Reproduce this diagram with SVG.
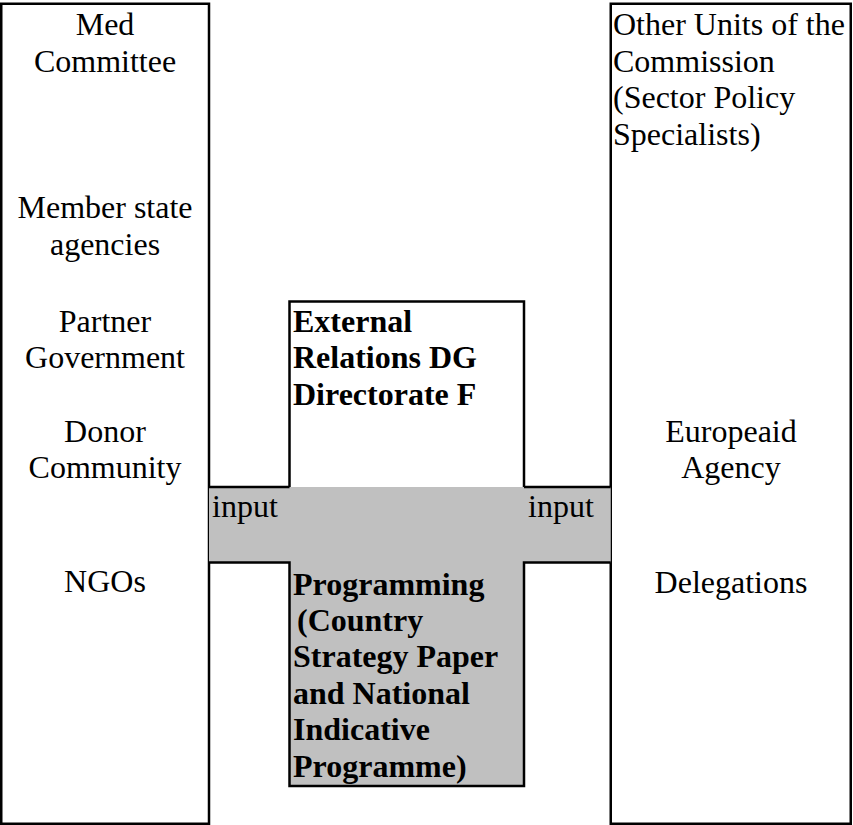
<svg xmlns="http://www.w3.org/2000/svg" width="853" height="825" viewBox="0 0 853 825">
<style>
  .box { fill: #ffffff; stroke: #000000; stroke-width: 2.5; }
  .edge { fill: none; stroke: #000000; stroke-width: 2.5; }
  .band { fill: #c0c0c0; stroke: none; }
  text { font-family: "Liberation Serif", "Times New Roman", serif; font-size: 32px; fill: #000000; }
  .c { text-anchor: middle; }
  .b { font-weight: bold; }
</style>
<rect width="853" height="825" fill="#ffffff"/>
<g id="left-stakeholders">
  <rect class="box" x="1.25" y="3.75" width="207.75" height="820"/>
  <text class="c" x="105" y="35">Med</text>
  <text class="c" x="105" y="71.7">Committee</text>
  <text class="c" x="105" y="218">Member state</text>
  <text class="c" x="105" y="254.5">agencies</text>
  <text class="c" x="105" y="332">Partner</text>
  <text class="c" x="105" y="368">Government</text>
  <text class="c" x="105" y="442">Donor</text>
  <text class="c" x="105" y="478">Community</text>
  <text class="c" x="105" y="592">NGOs</text>
</g>
<g id="right-commission">
  <rect class="box" x="610.75" y="3.75" width="240" height="820"/>
  <text x="613" y="35">Other Units of the</text>
  <text x="613" y="71.7">Commission</text>
  <text x="613" y="108.4">(Sector Policy</text>
  <text x="613" y="145">Specialists)</text>
  <text class="c" x="731" y="442">Europeaid</text>
  <text class="c" x="731" y="478">Agency</text>
  <text class="c" x="731" y="593">Delegations</text>
</g>
<g id="external-relations">
  <rect x="289.5" y="301.5" width="234.5" height="185.5" fill="#ffffff"/>
  <path class="edge" d="M289.5,487 V301.5 H524 V487"/>
  <text class="b" x="293" y="331.5">External</text>
  <text class="b" x="293" y="368.2">Relations DG</text>
  <text class="b" x="293" y="405">Directorate F</text>
</g>
<g id="connectors">
  <path class="band" d="M209,487 H610.75 V562.5 H524 V786 H289.5 V562.5 H209 Z"/>
  <path class="edge" d="M209,487 H289.5 M524,487 H610.75"/>
  <path class="edge" d="M209,562.5 H289.5 V786 H524 V562.5 H610.75"/>
  <text x="212" y="517">input</text>
  <text x="528" y="517">input</text>
</g>
<g id="programming">
  <text class="b" x="293" y="594.5">Programming</text>
  <text class="b" x="297" y="631">(Country</text>
  <text class="b" x="293" y="667.4">Strategy Paper</text>
  <text class="b" x="293" y="703.8">and National</text>
  <text class="b" x="293" y="740.2">Indicative</text>
  <text class="b" x="293" y="776.6">Programme)</text>
</g>
</svg>
